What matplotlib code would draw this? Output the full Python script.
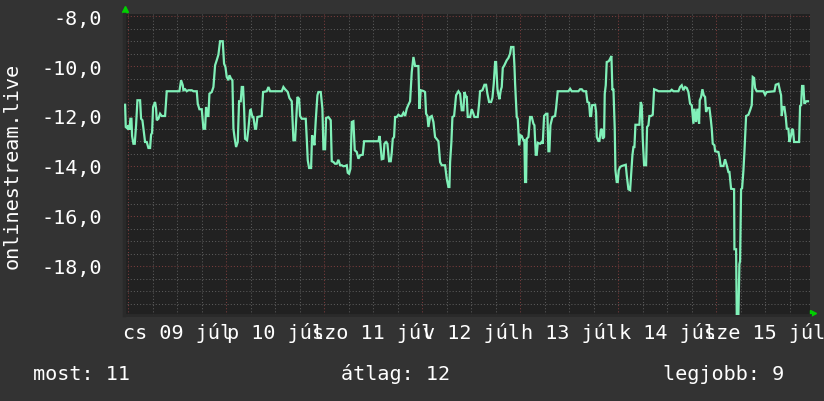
import matplotlib
matplotlib.use('Agg')
import matplotlib.pyplot as plt
import matplotlib.transforms as mtransforms
from matplotlib.ticker import FuncFormatter, MultipleLocator
import numpy as np

# hours since midnight, 09 jul
hours = [
    -0.73, -0.57, -0.16, 0.08, 0.33, 0.57, 0.82, 0.98, 1.31, 1.63,
    1.96, 2.29, 2.94, 3.18, 3.51, 4.16, 4.57, 4.98, 5.39, 5.63,
    5.88, 6.12, 6.61, 6.86, 7.02, 7.43, 7.84, 8.24, 9.06, 9.47,
    12.57, 12.98, 13.39, 13.55, 13.96, 14.37, 14.78, 15.59, 16.00, 16.82,
    17.06, 17.47, 18.04, 18.45, 18.86, 19.10, 19.43, 19.67, 19.92, 20.49,
    20.90, 21.31, 21.71, 22.12, 22.53, 23.18, 23.51, 23.84, 24.16, 24.57,
    24.82, 25.22, 25.55, 25.80, 26.12, 26.45, 26.86, 27.18, 27.59, 27.84,
    28.16, 28.41, 28.65, 29.14, 29.47, 29.88, 30.04, 30.45, 30.69, 31.10,
    31.35, 31.67, 32.73, 33.06, 33.96, 34.37, 34.78, 37.63, 38.04, 38.45,
    39.10, 39.51, 40.08, 40.49, 40.90, 41.14, 41.47, 41.88, 42.12, 42.53,
    43.51, 43.76, 44.00, 44.33, 44.82, 45.06, 45.39, 45.63, 45.96, 46.37,
    46.61, 47.18, 47.59, 47.84, 48.24, 48.49, 49.06, 49.63, 49.88, 50.29,
    50.69, 51.10, 51.51, 51.92, 52.33, 52.73, 53.14, 53.55, 53.80, 54.12,
    54.45, 54.78, 55.18, 55.51, 56.00, 56.41, 56.82, 57.47, 57.80, 61.31,
    61.55, 61.71, 62.12, 62.53, 62.78, 63.18, 63.51, 63.92, 64.33, 64.57,
    64.82, 65.14, 65.39, 65.80, 66.20, 66.61, 67.02, 67.43, 67.84, 68.24,
    68.65, 69.06, 69.47, 69.88, 70.29, 71.10, 71.35, 71.67, 72.33, 72.73,
    72.98, 73.31, 73.55, 73.96, 74.37, 74.78, 75.18, 76.00, 76.41, 76.82,
    77.63, 78.04, 78.45, 78.69, 78.86, 79.18, 79.43, 79.84, 80.33, 80.90,
    81.31, 81.71, 82.12, 82.37, 82.78, 82.94, 83.18, 83.76, 84.16, 84.57,
    84.82, 85.63, 85.96, 86.20, 86.78, 87.27, 87.67, 88.00, 88.41, 88.90,
    89.22, 89.55, 89.88, 90.12, 90.45, 90.69, 90.94, 91.27, 91.51, 91.76,
    92.16, 92.73, 93.14, 93.55, 93.80, 94.37, 94.61, 94.78, 95.18, 95.43,
    95.76, 96.08, 96.41, 96.82, 97.06, 97.22, 97.47, 97.63, 98.04, 98.45,
    98.86, 99.27, 99.51, 99.84, 100.08, 100.33, 100.90, 101.31, 101.55, 101.88,
    102.37, 102.69, 102.94, 103.18, 103.43, 103.92, 104.57, 104.82, 105.22, 107.84,
    108.25, 108.65, 110.29, 110.69, 111.10, 111.51, 112.16, 112.49, 112.90, 113.14,
    113.39, 113.63, 114.37, 114.61, 114.78, 115.18, 115.43, 115.76, 116.00, 116.25,
    116.57, 116.73, 116.98, 117.22, 117.71, 118.04, 118.37, 118.61, 118.86, 119.18,
    119.35, 119.67, 119.92, 120.16, 120.49, 120.90, 121.47, 121.88, 122.12, 122.53,
    122.94, 123.18, 123.51, 123.76, 124.00, 124.25, 125.22, 125.55, 125.80, 126.04,
    126.37, 126.86, 127.10, 127.43, 127.67, 128.08, 128.49, 128.82, 129.47, 129.88,
    132.74, 133.14, 133.55, 134.78, 135.18, 135.59, 136.00, 136.41, 136.82, 137.22,
    137.63, 138.04, 138.45, 138.69, 139.10, 139.43, 139.84, 140.00, 140.33, 140.65,
    140.98, 141.31, 141.55, 141.88, 142.37, 142.69, 142.94, 143.18, 143.59, 143.76,
    144.57, 144.82, 145.14, 145.80, 146.20, 146.61, 147.02, 147.27, 147.67, 148.41,
    148.49, 148.90, 149.06, 149.47, 149.71, 149.88, 150.12, 150.37, 150.69, 150.94,
    151.35, 151.92, 152.33, 152.73, 152.98, 153.31, 153.55, 153.96, 155.59, 156.00,
    156.41, 158.29, 158.61, 159.27, 159.67, 159.92, 160.08, 160.33, 160.73, 161.06,
    161.31, 161.71, 161.96, 162.37, 162.61, 162.86, 163.10, 164.33, 164.57, 164.82,
    165.06, 165.39, 165.63, 166.10, 166.51,
]
values = [
    -11.55, -12.44, -12.50, -12.37, -12.55, -12.11, -12.11, -12.80, -13.11, -13.11,
    -12.37, -11.37, -11.37, -12.11, -12.17, -13.04, -13.04, -13.28, -13.28, -12.75,
    -12.67, -11.64, -11.44, -11.71, -12.17, -12.11, -11.91, -12.00, -12.00, -11.01,
    -11.01, -10.57, -10.77, -10.97, -10.93, -11.01, -10.97, -10.97, -11.01, -11.01,
    -11.51, -11.73, -11.73, -12.51, -12.51, -11.64, -12.00, -12.00, -11.11, -11.04,
    -10.84, -9.97, -9.77, -9.55, -9.01, -9.01, -9.91, -10.04, -10.44, -10.57,
    -10.37, -10.51, -10.57, -12.51, -12.91, -13.24, -13.04, -11.41, -11.41, -10.84,
    -10.84, -11.71, -12.91, -12.97, -12.51, -11.77, -11.75, -12.04, -12.04, -12.51,
    -12.51, -12.04, -12.00, -11.04, -11.01, -10.84, -11.01, -11.01, -10.84, -10.93,
    -11.04, -11.28, -11.41, -12.97, -12.97, -12.21, -11.24, -11.31, -12.00, -12.11,
    -12.11, -12.91, -13.77, -14.08, -14.08, -12.77, -12.91, -13.17, -12.17, -11.17,
    -11.04, -11.04, -11.71, -13.33, -13.33, -12.08, -12.04, -12.17, -13.81, -13.84,
    -13.91, -13.91, -13.75, -13.97, -13.97, -14.01, -14.00, -13.97, -14.27, -14.31,
    -14.11, -12.24, -12.21, -13.37, -13.44, -13.71, -13.57, -13.55, -13.01, -13.01,
    -12.80, -12.97, -13.73, -13.71, -13.11, -13.04, -13.11, -13.81, -13.81, -13.47,
    -12.91, -12.84, -12.04, -12.04, -11.95, -12.00, -12.00, -11.87, -12.00, -11.71,
    -11.55, -11.41, -10.24, -9.64, -10.00, -10.00, -11.71, -10.97, -11.00, -11.04,
    -11.91, -12.00, -12.44, -12.04, -12.00, -12.24, -12.84, -13.01, -13.84, -13.97,
    -13.97, -14.51, -14.84, -14.84, -13.84, -13.04, -12.04, -12.00, -11.17, -11.01,
    -11.11, -11.77, -11.77, -11.04, -11.24, -11.24, -12.04, -12.04, -11.73, -11.91,
    -12.04, -12.04, -11.51, -11.01, -10.97, -10.75, -10.75, -11.11, -11.44, -11.44,
    -11.28, -10.71, -9.84, -9.84, -10.91, -11.15, -11.33, -10.97, -10.84, -10.08,
    -9.97, -9.77, -9.68, -9.51, -9.24, -9.24, -9.97, -10.71, -12.04, -12.11,
    -13.17, -12.77, -12.80, -12.97, -12.97, -14.64, -14.64, -12.91, -12.84, -12.04,
    -12.04, -12.31, -12.37, -13.55, -13.55, -13.07, -13.11, -13.04, -13.11, -12.00,
    -11.91, -11.91, -13.41, -13.41, -12.37, -12.04, -12.00, -11.68, -11.01, -11.01,
    -10.91, -11.01, -11.01, -10.93, -10.93, -11.01, -11.01, -11.44, -11.47, -12.00,
    -12.00, -11.57, -11.55, -11.84, -12.84, -13.00, -13.00, -12.57, -12.51, -12.91,
    -12.84, -11.11, -10.77, -9.84, -9.81, -9.71, -9.60, -10.97, -10.91, -12.51,
    -14.17, -14.64, -14.64, -14.17, -14.04, -14.00, -13.97, -13.95, -14.37, -14.93,
    -14.97, -14.37, -13.57, -13.24, -13.24, -12.35, -12.35, -11.44, -11.57, -12.91,
    -13.97, -13.97, -12.44, -12.37, -12.00, -12.00, -11.95, -10.93, -10.97, -11.01,
    -11.01, -10.95, -11.01, -11.01, -10.84, -10.77, -10.97, -10.84, -10.88, -11.04,
    -11.51, -11.57, -12.31, -11.71, -12.24, -11.71, -12.31, -11.37, -11.24, -10.93,
    -11.17, -11.24, -11.84, -11.68, -11.68, -12.11, -12.51, -13.11, -13.17, -13.41,
    -13.44, -13.64, -14.00, -14.00, -13.73, -13.97, -14.24, -14.24, -14.91, -14.93,
    -17.33, -17.33, -19.93, -19.93, -17.93, -17.80, -14.93, -14.89, -14.19, -13.44,
    -12.00, -11.95, -11.77, -11.57, -10.44, -10.48, -10.88, -11.01, -11.01, -11.15,
    -11.04, -11.01, -10.75, -10.71, -11.01, -11.17, -12.00, -11.64, -11.64, -12.04,
    -12.51, -12.51, -13.04, -12.77, -12.51, -12.57, -13.04, -13.04, -11.60, -11.57,
    -10.80, -10.80, -11.51, -11.41, -11.41,
]
assert len(hours) == len(values)

day_labels = ['cs 09 júl', 'p 10 júl', 'szo 11 júl', 'v 12 júl',
              'h 13 júl', 'k 14 júl', 'sze 15 júl']
y_label = 'onlinestream.live'
legend_items = ['most: 11', 'átlag: 12', 'legjobb: 9']

bg = '#333333'
plot_bg = '#212121'
line_color = '#80f0b8'
minor_grid = '#5a5a5a'
major_grid = '#7a3c3c'
mono = 'DejaVu Sans Mono'
fsize = 14.5

W, H = 824, 402
fig = plt.figure(figsize=(W / 100, H / 100), dpi=100, facecolor=bg)
ax = fig.add_axes([124 / W, 1 - 316 / H, 686 / W, 301 / H], facecolor=plot_bg)

ax.plot(hours, values, color=line_color, lw=1.6, solid_joinstyle='miter', zorder=5)

ax.set_xlim(-1, 167)
ax.set_ylim(-19.96, -7.92)

# grid: gray dotted every 6h / 0.5, dark red at days / 2 units
ax.xaxis.set_major_locator(MultipleLocator(24))
ax.xaxis.set_minor_locator(MultipleLocator(6))
ax.yaxis.set_major_locator(MultipleLocator(2))
ax.yaxis.set_minor_locator(MultipleLocator(0.5))
ax.grid(which='minor', color=minor_grid, linestyle=(0, (1, 2)), linewidth=0.75)
ax.grid(which='major', color=major_grid, linestyle=(0, (1, 2)), linewidth=0.75)
ax.set_axisbelow(True)

ax.yaxis.set_major_formatter(FuncFormatter(lambda v, p: ('%.1f' % v).replace('.', ',')))
ax.xaxis.set_major_formatter(FuncFormatter(lambda v, p: ''))
ax.tick_params(which='both', length=0, colors='white', labelsize=fsize, pad=16)
for lab in ax.get_yticklabels():
    lab.set_fontfamily(mono)

for s in ['top', 'right']:
    ax.spines[s].set_visible(False)
ax.spines['left'].set_color('#2a2a2a')
ax.spines['left'].set_linewidth(2.5)
ax.spines['bottom'].set_color('#2a2a2a')
ax.spines['bottom'].set_linewidth(2)

# day labels centred at noon
trans = mtransforms.blended_transform_factory(ax.transData, fig.transFigure)
for i, lab in enumerate(day_labels):
    ax.text(12 + 24 * i, 1 - 339 / H, lab, transform=trans, ha='center',
            va='baseline', color='white', fontsize=fsize, family=mono,
            clip_on=False)

fig.text(12 / W, 0.5 * (2 - (15 + 316) / H), y_label, rotation=90,
         ha='center', va='center', color='white', fontsize=fsize, family=mono)

# green axis arrows
ax.plot([0.0015], [1.018], marker='^', color='#00d000', ms=5,
        transform=ax.transAxes, clip_on=False)
ax.plot([1.005], [0.006], marker='>', color='#00d000', ms=5,
        transform=ax.transAxes, clip_on=False)

for xpos, txt in zip([33, 341, 663], legend_items):
    fig.text(xpos / W, 1 - 380 / H, txt, ha='left', va='baseline',
             color='white', fontsize=fsize, family=mono)

fig.savefig('out.png', dpi=100, facecolor=bg)
